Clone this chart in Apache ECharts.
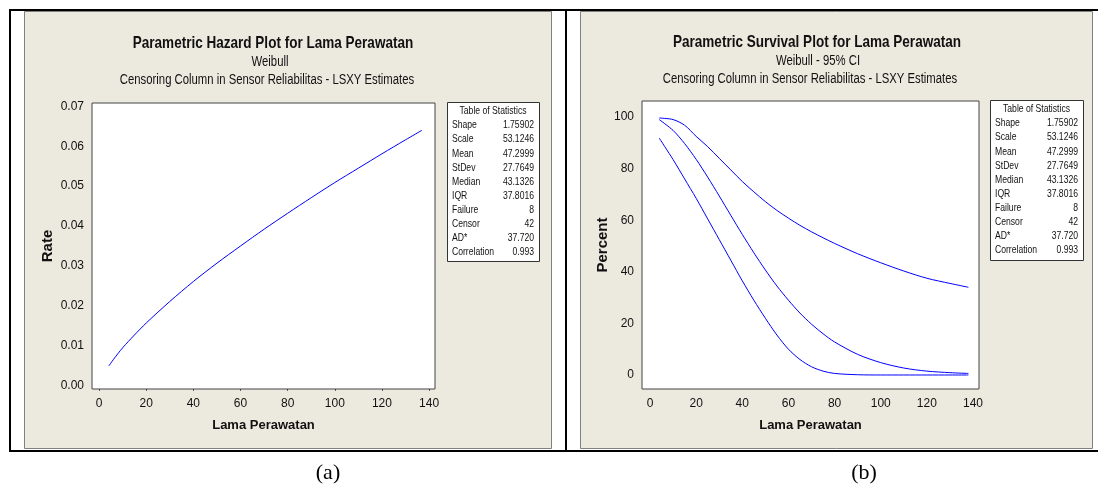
<!DOCTYPE html>
<html><head><meta charset="utf-8">
<script src="https://cdn.jsdelivr.net/npm/echarts@6/dist/echarts.min.js"></script>
<style>html,body{margin:0;padding:0;background:#fff}#c{width:1098px;height:487px}</style>
</head><body><div id="c"></div>
<script>
const SANS = '"Liberation Sans",Arial,sans-serif';
const SERIF = '"Liberation Serif","Times New Roman",serif';
const SQUEEZE = 0.82; // reference text is horizontally condensed

// ---- texts ----
const hazardTitle = 'Parametric Hazard Plot for Lama Perawatan';
const hazardSub1 = 'Weibull';
const survivalTitle = 'Parametric Survival Plot for Lama Perawatan';
const survivalSub1 = 'Weibull - 95% CI';
const subLine2 = 'Censoring Column in Sensor Reliabilitas - LSXY Estimates';
const xName = 'Lama Perawatan';
const hazardYName = 'Rate';
const survivalYName = 'Percent';
const captions = ['(a)', '(b)'];

// ---- tick labels ----
const xTicks = [0, 20, 40, 60, 80, 100, 120, 140];
const hazardYTicks = [0, 0.01, 0.02, 0.03, 0.04, 0.05, 0.06, 0.07];
const survivalYTicks = [0, 20, 40, 60, 80, 100];

// ---- table of statistics ----
const statLabels = ['Shape', 'Scale', 'Mean', 'StDev', 'Median', 'IQR', 'Failure', 'Censor', 'AD*', 'Correlation'];
const statValues = ['1.75902', '53.1246', '47.2999', '27.7649', '43.1326', '37.8016', '8', '42', '37.720', '0.993'];

// ---- hazard curve ----
const hazardT =    [4.2,    6,      10,     15,     20,     30,     40,     50,     60,     70,     80,     90,     100,    110,    120,    130,    137];
const hazardRate = [0.0050, 0.0065, 0.0095, 0.0127, 0.0157, 0.0211, 0.0261, 0.0307, 0.0350, 0.0392, 0.0432, 0.0471, 0.0509, 0.0545, 0.0581, 0.0616, 0.0640];

// ---- survival curves ----
const survT =     [4,    10,   15,   20,   25,   30,   35,   40,   45,   50,   55,   60,   65,   70,   75,   80,   90,   100,  110,  120,  130,  138];
const survMid =   [99.0, 94.8, 89.7, 83.6, 76.7, 69.4, 61.9, 54.5, 47.4, 40.7, 34.5, 29.0, 24.0, 19.7, 16.0, 12.8, 8.0,  4.8,  2.7,  1.5,  0.9,  0.6];
const survUpper = [99.6, 99.0, 96.8, 92.5, 88.5, 84.0, 79.5, 75.0, 71.0, 67.2, 63.8, 60.8, 58.0, 55.5, 53.2, 51.0, 47.0, 43.5, 40.3, 37.5, 35.5, 34.0];
const survLower = [91.8, 83.5, 76.0, 68.5, 60.5, 52.5, 44.5, 36.5, 29.0, 22.0, 15.5, 10.0, 6.0,  3.2,  1.5,  0.6,  0.1,  0.0,  0.0,  0.0,  0.0,  0.0];

const pairs = (xs, ys) => xs.map((x, i) => [x, ys[i]]);
const BLUE = '#0000ff';
const BEIGE = '#ece9df';

function rect(x, y, w, h, fill, stroke, z) {
  return { type: 'rect', z: z, shape: { x: x, y: y, width: w, height: h }, style: { fill: fill, stroke: stroke || null, lineWidth: 1 }, silent: true };
}
function text(x, y, t, opts) {
  opts = opts || {};
  return { type: 'text', z: 10, x: x, y: y, rotation: opts.rotation || 0,
    scaleX: opts.scaleX == null ? SQUEEZE : opts.scaleX,
    style: { text: t, fontFamily: opts.font || SANS, fontSize: opts.size || 12, fontWeight: opts.weight || 'normal',
      fill: opts.fill || '#111', align: opts.align || 'center', verticalAlign: 'middle' }, silent: true };
}
function table(x, y, w, h) {
  const els = [rect(x + 0.5, y + 0.5, w, h, '#fff', '#333', 5)];
  els.push(text(x + w / 2, y + 9, 'Table of Statistics', { size: 10.5 }));
  statLabels.forEach((l, i) => {
    const yy = y + 23.5 + i * 14.1;
    els.push(text(x + 5, yy, l, { size: 10.5, align: 'left' }));
    els.push(text(x + w - 5, yy, statValues[i], { size: 10.5, align: 'right' }));
  });
  return els;
}

const graphics = [
  // panels
  rect(24.5, 11.5, 527, 437, BEIGE, '#808080', 0),
  rect(580.5, 11.5, 512, 437, BEIGE, '#808080', 0),
  // black frame lines
  rect(9, 9, 1089, 2, '#000', null, 1),
  rect(9, 9, 2, 443, '#000', null, 1),
  rect(565, 9, 2, 443, '#000', null, 1),
  rect(9, 450, 1089, 2, '#000', null, 1),
  // titles
  text(273, 43, hazardTitle, { size: 16.5, weight: 'bold' }),
  text(270, 62, hazardSub1, { size: 13.8 }),
  text(267, 80, subLine2, { size: 13.8 }),
  text(817, 42, survivalTitle, { size: 16.5, weight: 'bold' }),
  text(818, 61, survivalSub1, { size: 13.8 }),
  text(810, 79, subLine2, { size: 13.8 }),
  // rotated axis names
  text(48, 246, hazardYName, { size: 15, weight: 'bold', rotation: Math.PI / 2, scaleX: 1 }),
  text(603, 245, survivalYName, { size: 15, weight: 'bold', rotation: Math.PI / 2, scaleX: 1 }),
  // captions
  text(328, 473, captions[0], { font: SERIF, size: 22, scaleX: 1, fill: '#000' }),
  text(864, 473, captions[1], { font: SERIF, size: 22, scaleX: 1, fill: '#000' })
].concat(table(447, 102, 92, 159)).concat(table(990, 100, 93, 160));

const tickStyle = { show: true, length: 5, inside: false, lineStyle: { color: '#333', width: 1 } };
const labelFont = { fontFamily: SANS, fontSize: 12, color: '#111' };
const nameStyle = { fontFamily: SANS, fontSize: 13, fontWeight: 'bold', color: '#111', verticalAlign: 'middle' };

const option = {
  animation: false,
  backgroundColor: '#fff',
  graphic: { elements: graphics },
  grid: [
    { left: 92, top: 103, width: 343, height: 286, show: true, backgroundColor: '#fff', borderColor: '#444', borderWidth: 1, z: 3 },
    { left: 642, top: 101, width: 337, height: 288, show: true, backgroundColor: '#fff', borderColor: '#444', borderWidth: 1, z: 3 }
  ],
  xAxis: [
    { type: 'value', gridIndex: 0, min: -3, max: 142.5, splitLine: { show: false }, axisLine: { show: false },
      axisTick: Object.assign({ customValues: xTicks }, tickStyle),
      axisLabel: Object.assign({ customValues: xTicks, margin: 9 }, labelFont),
      name: xName, nameLocation: 'middle', nameGap: 36, nameTextStyle: nameStyle },
    { type: 'value', gridIndex: 1, min: -3.47, max: 142.6, splitLine: { show: false }, axisLine: { show: false },
      axisTick: Object.assign({ customValues: xTicks }, tickStyle),
      axisLabel: Object.assign({ customValues: xTicks, margin: 9 }, labelFont),
      name: xName, nameLocation: 'middle', nameGap: 36, nameTextStyle: nameStyle }
  ],
  yAxis: [
    { type: 'value', gridIndex: 0, min: -0.000825, max: 0.070825, splitLine: { show: false }, axisLine: { show: false },
      axisTick: Object.assign({ customValues: hazardYTicks }, tickStyle),
      axisLabel: Object.assign({ customValues: hazardYTicks, margin: 8, formatter: v => v.toFixed(2) }, labelFont) },
    { type: 'value', gridIndex: 1, min: -5.43, max: 106.2, splitLine: { show: false }, axisLine: { show: false },
      axisTick: Object.assign({ customValues: survivalYTicks }, tickStyle),
      axisLabel: Object.assign({ customValues: survivalYTicks, margin: 8 }, labelFont) }
  ],
  series: [
    { type: 'line', xAxisIndex: 0, yAxisIndex: 0, data: pairs(hazardT, hazardRate), showSymbol: false, smooth: 0.3,
      lineStyle: { color: BLUE, width: 1 }, z: 5 },
    { type: 'line', xAxisIndex: 1, yAxisIndex: 1, data: pairs(survT, survUpper), showSymbol: false, smooth: 0.3,
      lineStyle: { color: BLUE, width: 1 }, z: 5 },
    { type: 'line', xAxisIndex: 1, yAxisIndex: 1, data: pairs(survT, survMid), showSymbol: false, smooth: 0.3,
      lineStyle: { color: BLUE, width: 1 }, z: 5 },
    { type: 'line', xAxisIndex: 1, yAxisIndex: 1, data: pairs(survT, survLower), showSymbol: false, smooth: 0.3,
      lineStyle: { color: BLUE, width: 1 }, z: 5 }
  ]
};
const chart = echarts.init(document.getElementById('c'), null, { renderer: 'canvas' });
chart.setOption(option);
</script>
</body></html>
